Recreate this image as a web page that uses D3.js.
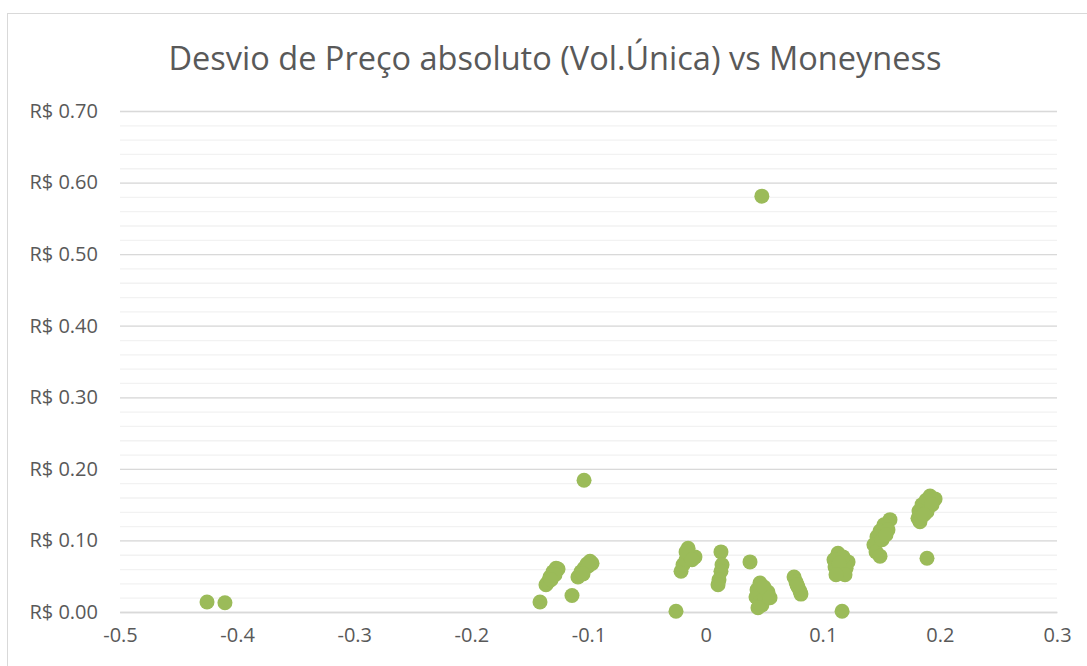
<!DOCTYPE html>
<html>
<head>
<meta charset="utf-8">
<script src="https://cdn.jsdelivr.net/npm/d3@7"></script>
<style>
  html, body { margin: 0; padding: 0; background: #fff; }
  svg { display: block; }
  svg text { font-family: "Open Sans", sans-serif; }
</style>
</head>
<body>
<svg id="chart"></svg>
<script>
// Chart text
const title = "Desvio de Preço absoluto (Vol.Única) vs Moneyness";

// Axis ticks
const xTicks = [-0.5, -0.4, -0.3, -0.2, -0.1, 0, 0.1, 0.2, 0.3];
const yMajor = [0, 0.1, 0.2, 0.3, 0.4, 0.5, 0.6, 0.7];
const yMinor = d3.range(0, 0.7001, 0.02);

// Moneyness (x) and absolute price deviation (y)
const moneyness = [
  -0.4257, -0.4104, -0.1414, -0.1141, -0.1038,
  -0.1363, -0.1346, -0.1329, -0.1303, -0.1277, -0.1260, -0.1286, -0.1320,
  -0.1090, -0.1064, -0.1038, -0.1013, -0.0987, -0.0970, -0.1004, -0.1047,
  -0.0253,
  -0.0150, -0.0210, -0.0193, -0.0167, -0.0133, -0.0091, -0.0167, -0.0116,
  0.0131, 0.0140, 0.0131, 0.0114, 0.0106, 0.0379,
  0.0464, 0.0439, 0.0430, 0.0464, 0.0481, 0.0507, 0.0532, 0.0498, 0.0447, 0.0550,
  0.0755, 0.0772, 0.0789, 0.0806, 0.0814, 0.0780,
  0.1130, 0.1096, 0.1105, 0.1147, 0.1199, 0.1216, 0.1173, 0.1139, 0.1190, 0.1113,
  0.1165,
  0.1574, 0.1523, 0.1489, 0.1463, 0.1437, 0.1455, 0.1489, 0.1506, 0.1557, 0.1540,
  0.1916, 0.1959, 0.1882, 0.1848, 0.1822, 0.1813, 0.1830, 0.1890, 0.1933, 0.1864,
  0.1890, 0.0480
];
const desvio = [
  0.014, 0.013, 0.014, 0.023, 0.184,
  0.038, 0.042, 0.049, 0.056, 0.061, 0.060, 0.052, 0.045,
  0.049, 0.056, 0.061, 0.067, 0.071, 0.068, 0.064, 0.053,
  0.001,
  0.089, 0.057, 0.066, 0.073, 0.078, 0.077, 0.084, 0.073,
  0.084, 0.066, 0.057, 0.045, 0.038, 0.070,
  0.0405, 0.031, 0.021, 0.014, 0.010, 0.020, 0.028, 0.035, 0.006, 0.020,
  0.049, 0.042, 0.035, 0.029, 0.025, 0.038,
  0.082, 0.073, 0.063, 0.054, 0.061, 0.070, 0.077, 0.068, 0.052, 0.052,
  0.001,
  0.129, 0.122, 0.113, 0.105, 0.094, 0.084, 0.078, 0.101, 0.115, 0.108,
  0.162, 0.158, 0.156, 0.150, 0.141, 0.131, 0.126, 0.140, 0.150, 0.136,
  0.075, 0.581
];

const W = 1087, H = 666;
let margin = {top: 111, right: 30, bottom: 54, left: 120},
    width = 1057 - margin.left,
    height = 612 - margin.top;

let svg = d3.select("#chart")
    .attr("width", W)
    .attr("height", H);

// Chart border
svg.append("rect")
    .attr("x", 7.5).attr("y", 13.5)
    .attr("width", W + 10).attr("height", H + 10)
    .attr("fill", "#fff")
    .attr("stroke", "#d9d9d9");

// Title
svg.append("text")
    .attr("x", 555).attr("y", 70)
    .attr("text-anchor", "middle")
    .attr("fill", "#595959")
    .style("font-size", "32.5px")
    .text(title);

let x = d3.scaleLinear().domain([-0.5, 0.3]).range([0, width]);
let y = d3.scaleLinear().domain([0, 0.7]).range([height, 0]);

// plain hyphen minus, like the original
const fmtX = d => d === 0 ? "0" : d3.format(".1f")(d).replace("\u2212", "-");

let g = svg.append("g")
    .attr("transform", "translate(" + margin.left + "," + margin.top + ")");

// Minor gridlines
g.append("g")
    .call(d3.axisLeft(y).tickValues(yMinor).tickSize(-width).tickFormat(""))
    .call(a => a.select(".domain").remove())
    .selectAll("line").attr("stroke", "#f2f2f2").attr("stroke-width", 1.3);

// Major gridlines + labels
let yAxis = g.append("g")
    .call(d3.axisLeft(y).tickValues(yMajor).tickSize(-width).tickPadding(22)
        .tickFormat(d => "R$ " + d3.format(".2f")(d)));
yAxis.attr("font-family", null);
yAxis.select(".domain").remove();
yAxis.selectAll("line").attr("stroke", "#d9d9d9").attr("stroke-width", 1.3);
yAxis.selectAll("text").attr("fill", "#595959").style("font-size", "20px");

// x axis labels
let xAxis = g.append("g")
    .attr("transform", "translate(0," + height + ")")
    .call(d3.axisBottom(x).tickValues(xTicks).tickSize(0).tickPadding(16)
        .tickFormat(fmtX));
xAxis.attr("font-family", null);
xAxis.select(".domain").attr("stroke", "#d9d9d9").attr("stroke-width", 1.5);
xAxis.selectAll("text").attr("fill", "#595959").style("font-size", "20px");

// Points
g.append("g")
    .selectAll("circle")
    .data(moneyness.map((m, i) => [m, desvio[i]]))
    .join("circle")
    .attr("cx", d => x(d[0]))
    .attr("cy", d => y(d[1]))
    .attr("r", 7.5)
    .attr("fill", "#9bbb59");
</script>
</body>
</html>
